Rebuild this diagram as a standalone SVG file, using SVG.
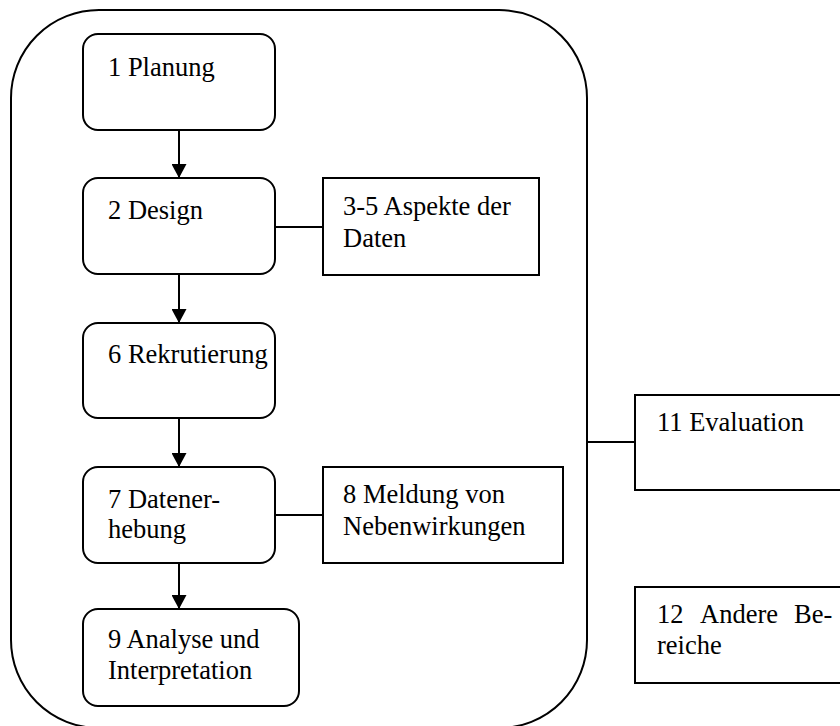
<svg xmlns="http://www.w3.org/2000/svg" width="840" height="726" viewBox="0 0 840 726">
<style>
  .box { fill: #fff; stroke: #000; stroke-width: 2; }
  .frame { fill: none; stroke: #000; stroke-width: 2; }
  .t { font-family: "Liberation Serif", "Times New Roman", serif; font-size: 26.5px; fill: #000; }
  .edge { stroke: #000; stroke-width: 2; fill: none; }
</style>
<defs>
  <marker id="arr" viewBox="0 0 14 15" refX="14" refY="7.5" markerWidth="14" markerHeight="15" markerUnits="userSpaceOnUse" orient="auto">
    <path d="M0,0 L14,7.5 L0,15 Z" fill="#000"/>
  </marker>
</defs>
<rect id="frame" class="frame" x="11" y="10" width="576" height="718" rx="88" ry="88"/>
<g id="connectors">
  <line class="edge" x1="179" y1="130" x2="179" y2="178" marker-end="url(#arr)"/>
  <line class="edge" x1="179" y1="274" x2="179" y2="323" marker-end="url(#arr)"/>
  <line class="edge" x1="179" y1="418" x2="179" y2="467" marker-end="url(#arr)"/>
  <line class="edge" x1="179" y1="563" x2="179" y2="609" marker-end="url(#arr)"/>
  <line class="edge" x1="275" y1="227" x2="323" y2="227"/>
  <line class="edge" x1="275" y1="515" x2="323" y2="515"/>
  <line class="edge" x1="587" y1="442" x2="635" y2="442"/>
</g>
<g id="n1">
  <rect class="box" x="83" y="34" width="192" height="96" rx="15"/>
  <text class="t" x="108" y="76">1 Planung</text>
</g>
<g id="n2">
  <rect class="box" x="83" y="178" width="192" height="96" rx="15"/>
  <text class="t" x="108" y="219">2 Design</text>
</g>
<g id="n35">
  <rect class="box" x="323" y="178" width="216" height="97"/>
  <text class="t" x="343" y="215">3-5 Aspekte der</text>
  <text class="t" x="343" y="247">Daten</text>
</g>
<g id="n6">
  <rect class="box" x="83" y="323" width="192" height="95" rx="15"/>
  <text class="t" x="108" y="363">6 Rekrutierung</text>
</g>
<g id="n7">
  <rect class="box" x="83" y="467" width="192" height="96" rx="15"/>
  <text class="t" x="108" y="508">7 Datener-</text>
  <text class="t" x="108" y="538">hebung</text>
</g>
<g id="n8">
  <rect class="box" x="323" y="467" width="240" height="96"/>
  <text class="t" x="343" y="503">8 Meldung von</text>
  <text class="t" x="343" y="535">Nebenwirkungen</text>
</g>
<g id="n9">
  <rect class="box" x="83" y="609" width="216" height="97" rx="15"/>
  <text class="t" x="108" y="648">9 Analyse und</text>
  <text class="t" x="108" y="679">Interpretation</text>
</g>
<g id="n11">
  <rect class="box" x="635" y="395" width="220" height="95"/>
  <text class="t" x="657" y="431">11 Evaluation</text>
</g>
<g id="n12">
  <rect class="box" x="635" y="587" width="220" height="96"/>
  <text class="t" y="623"><tspan x="657">12</tspan><tspan x="700">Andere</tspan><tspan x="794">Be-</tspan></text>
  <text class="t" x="657" y="654">reiche</text>
</g>
</svg>
